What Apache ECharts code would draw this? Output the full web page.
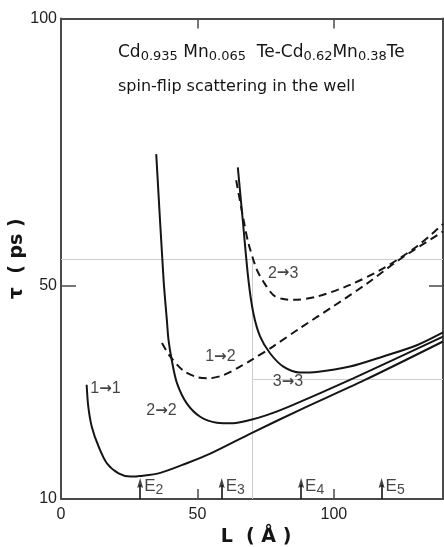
<!DOCTYPE html>
<html>
<head>
<meta charset="utf-8">
<script src="https://cdn.jsdelivr.net/npm/echarts@6/dist/echarts.min.js"></script>
<style>
  html, body { margin: 0; padding: 0; background: #fff; }
  #chart { width: 444px; height: 547px; }
</style>
</head>
<body>
<div id="chart"></div>
<script>
// Spin-flip scattering time tau (ps) versus well width L (Å)
// for Cd0.935Mn0.065Te - Cd0.62Mn0.38Te quantum wells.

const xTickLabels = [0, 50, 100];
const yTickLabels = [10, 50, 100];

// intra-subband transitions (solid)
const curve11 = [[9.4,31.4],[10.0,27.3],[11.3,23.5],[13.8,19.8],[16.8,16.7],[21.1,14.8],[25.4,14.2],[29.0,14.3],[36.4,14.9],[46.1,16.7],[54.7,18.5],[70.0,22.4],[87.6,26.7],[111.4,32.3],[140,39.5]];
const curve22 = [[34.9,74.6],[37.6,51.0],[38.8,43.5],[39.4,39.8],[40.6,36.0],[42.5,31.7],[46.1,27.9],[51.0,25.4],[57.1,24.3],[63.2,24.2],[69.3,24.8],[75.4,25.7],[84.0,27.4],[107.1,32.6],[140,40.4]];
const curve33 = [[64.8,72.1],[66.6,62.3],[68.7,51.0],[70.5,44.8],[73.0,40.4],[76.6,37.3],[81.5,34.8],[87.6,33.7],[93.7,33.8],[105.9,34.8],[118.1,36.7],[130.4,38.8],[140,41.2]];

// inter-subband transitions (dashed)
const curve12 = [[37.0,39.2],[40.0,36.7],[44.9,34.0],[50.0,32.8],[54.0,32.6],[59.5,33.2],[65.0,34.6],[70.0,36.1],[77.8,38.6],[87.6,42.0],[99.8,46.1],[112.0,50.3],[124.2,54.9],[140,60.1]];
const curve23 = [[64.2,69.7],[66.9,62.3],[68.7,57.9],[71.8,52.9],[74.2,50.7],[77.8,48.2],[81.0,47.5],[85.2,47.3],[93.7,47.9],[105.9,50.1],[118.1,53.2],[130.4,57.3],[140,61.5]];

// well widths at which the subband levels E2..E5 appear
const levelIndex = ['2', '3', '4', '5'];
const levelWidth = [29.0, 58.9, 88.0, 117.5];

const curveNames = ['1→1', '2→2', '3→3', '1→2', '2→3'];

// where each curve's name is written (data units)
const curveLabelAnchor = {
  '1→1': [16.3, 30.6],
  '2→2': [36.8, 26.5],
  '1→2': [58.4, 36.6],
  '3→3': [83.2, 31.9],
  '2→3': [81.4, 52.3]
};

const INK = '#151515';
const FRAME = '#4a4a4a';
const numFont = 'Liberation Sans';
const textFont = 'DejaVu Sans';

const chart = echarts.init(document.getElementById('chart'), null, { renderer: 'canvas' });

function curveSeries(name, data, dashed) {
  return {
    name: name,
    type: 'line',
    data: data,
    smooth: 0.3,
    showSymbol: false,
    symbol: 'none',
    silent: true,
    z: 5,
    lineStyle: { color: INK, width: 2, type: dashed ? [8, 5] : 'solid' }
  };
}

const series = [
  curveSeries('1→1', curve11, false),
  curveSeries('2→2', curve22, false),
  curveSeries('3→3', curve33, false),
  curveSeries('1→2', curve12, true),
  curveSeries('2→3', curve23, true),
  {
    // faint guide lines
    type: 'line',
    data: [],
    silent: true,
    z: 1,
    markLine: {
      silent: true,
      symbol: 'none',
      label: { show: false },
      lineStyle: { color: '#cdcdcd', width: 1, type: 'solid' },
      data: [
        [{ coord: [0, 55] }, { coord: [140, 55] }],
        [{ coord: [70, 55] }, { coord: [70, 10] }],
        [{ coord: [70, 32.5] }, { coord: [140, 32.5] }]
      ]
    }
  },
  {
    // stems of the E2..E5 arrows
    type: 'line',
    data: [],
    silent: true,
    z: 6,
    markLine: {
      silent: true,
      symbol: 'none',
      label: { show: false },
      lineStyle: { color: INK, width: 1.6, type: 'solid' },
      data: levelWidth.map(w => [{ coord: [w, 10] }, { coord: [w, 12.6] }])
    }
  },
  {
    // arrow heads and E_n labels
    type: 'scatter',
    silent: true,
    symbol: 'path://M5,0 L10,14 L5,12 L0,14 Z',
    symbolSize: [6, 10],
    itemStyle: { color: INK },
    z: 7,
    data: levelWidth.map((w, i) => ({ value: [w, 13.0], idx: levelIndex[i] })),
    label: {
      show: true,
      position: 'right',
      distance: 1,
      offset: [0, 3],
      formatter: p => 'E{s|' + p.data.idx + '}',
      color: INK,
      fontFamily: numFont,
      fontSize: 17,
      rich: {
        s: { fontFamily: numFont, fontSize: 14, color: INK, padding: [9, 0, 0, 0] }
      }
    }
  },
  {
    type: 'scatter',
    silent: true,
    symbolSize: 0,
    z: 7,
    data: curveNames.map(n => ({ value: curveLabelAnchor[n], name: n })),
    label: {
      show: true,
      position: 'inside',
      formatter: p => {
        const parts = p.name.split('→');
        return parts[0] + '{a|→}' + parts[1];
      },
      color: INK,
      fontFamily: numFont,
      fontSize: 16,
      rich: {
        a: { fontFamily: textFont, fontSize: 15, fontWeight: 'bold', color: INK }
      }
    }
  }
];

const option = {
  animation: false,
  backgroundColor: '#ffffff',
  grid: { left: 61, right: 1, top: 18.5, bottom: 48, containLabel: false, outerBoundsMode: 'none' },
  xAxis: [
    {
      type: 'value', position: 'bottom', min: 0, max: 140,
      name: 'L  ( Å )', nameLocation: 'middle', nameGap: 29,
      nameTextStyle: { fontFamily: textFont, fontWeight: 'bold', fontSize: 19, color: INK, padding: [0, 0, 0, 8] },
      axisLine: { show: true, onZero: false, lineStyle: { color: FRAME, width: 2 } },
      axisTick: { show: true, inside: true, length: 10, customValues: [50, 100], lineStyle: { color: FRAME, width: 1.5 } },
      axisLabel: { show: true, customValues: xTickLabels, margin: 8, fontFamily: numFont, fontSize: 16, color: '#222' },
      splitLine: { show: false }
    },
    {
      type: 'value', position: 'top', min: 0, max: 140,
      axisLine: { show: true, onZero: false, lineStyle: { color: FRAME, width: 2 } },
      axisTick: { show: true, inside: true, length: 10, customValues: [50, 100], lineStyle: { color: FRAME, width: 1.5 } },
      axisLabel: { show: false },
      splitLine: { show: false }
    }
  ],
  yAxis: [
    {
      type: 'value', position: 'left', min: 10, max: 100,
      name: 'τ  ( ps )', nameLocation: 'middle', nameGap: 34, nameMoveOverlap: false,
      nameTextStyle: { fontFamily: textFont, fontWeight: 'bold', fontSize: 19, color: INK },
      axisLine: { show: true, onZero: false, lineStyle: { color: FRAME, width: 2 } },
      axisTick: { show: true, inside: true, length: 15, customValues: [50], lineStyle: { color: FRAME, width: 1.5 } },
      axisLabel: { show: true, customValues: yTickLabels, margin: 4, fontFamily: numFont, fontSize: 16, color: '#222' },
      splitLine: { show: false }
    },
    {
      type: 'value', position: 'right', min: 10, max: 100,
      axisLine: { show: true, onZero: false, lineStyle: { color: FRAME, width: 2 } },
      axisTick: { show: true, inside: true, length: 14, customValues: [50], lineStyle: { color: FRAME, width: 1.5 } },
      axisLabel: { show: false },
      splitLine: { show: false }
    }
  ],
  graphic: [
    {
      type: 'text', left: 118, top: 44, silent: true,
      style: {
        text: 'Cd{s|0.935} Mn{s|0.065}  Te-Cd{s|0.62}Mn{s|0.38}Te',
        fontFamily: textFont, fontSize: 17, fill: INK,
        rich: {
          s: { fontFamily: textFont, fontSize: 13, fill: INK, padding: [9, 0, 0, 0] }
        }
      }
    },
    {
      type: 'text', left: 118, top: 79, silent: true,
      style: { text: 'spin-flip scattering in the well', fontFamily: textFont, fontSize: 16, fill: INK }
    }
  ],
  series: series
};

chart.setOption(option);
</script>
</body>
</html>
